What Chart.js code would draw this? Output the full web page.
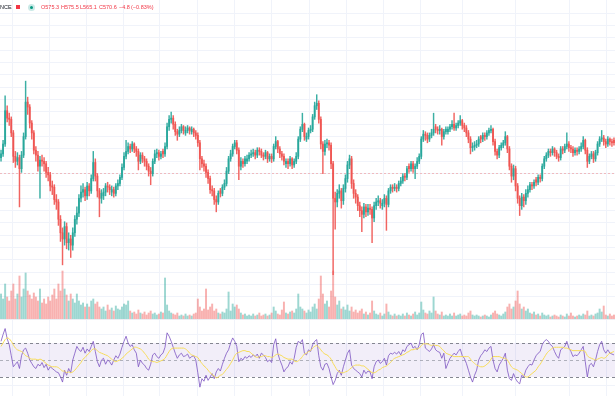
<!DOCTYPE html>
<html><head><meta charset="utf-8">
<script src="https://cdn.jsdelivr.net/npm/chart.js@4.4.1/dist/chart.umd.min.js"></script>
<style>
html,body{margin:0;padding:0;background:#fff;}
body{width:615px;height:396px;position:relative;overflow:hidden;font-family:"Liberation Sans",Arial,sans-serif;}
#pw{position:absolute;left:0;top:0;width:615px;height:319px}
#rw{position:absolute;left:0;top:320px;width:615px;height:76px}
#sep{position:absolute;left:0;top:319px;width:615px;height:1px;background:#eceef3}
.lg{position:absolute;top:3px;font-size:5.5px;line-height:8px;white-space:nowrap}
</style></head><body>
<div id="pw"><canvas id="price" width="615" height="319"></canvas></div>
<div id="sep"></div>
<div id="rw"><canvas id="rsi" width="615" height="76"></canvas></div>
<div id="legend"></div>
<script>
// ---------- DATA ----------
const symbolTail = "NCE";
const legendValues = ["O575.3", "H575.5", "L565.1", "C570.6", "\u22124.8", "(\u22120.83%)"];
const priceLine = 570.6;
const rsiLevels = [70, 50, 30];
const gridTicks = [5.7, 23.5, 41.8, 59.6, 77.5, 95.9, 114.1, 132.0, 150.7, 168.6, 186.5, 204.7, 225.2, 251.1, 277.2, 295.5];

const open = [
583,586,594,621,615,614,603,584,580,583,
574,585,600,628,624,611,603,589,585,576,
581,580,578,571,569,560,559,549,547,533,
522,517,527,514,517,512,522,533,538,550,
555,557,552,560,556,566,579,568,556,550,
552,555,560,559,555,557,554,560,562,567,
575,584,588,592,590,594,590,588,580,585,
582,580,576,572,570,580,586,587,584,588,
586,592,608,614,615,610,604,602,605,608,
603,605,607,604,606,603,601,595,582,578,
576,571,566,557,556,549,547,556,554,559,
562,572,582,586,592,595,589,576,580,578,
580,582,585,586,587,585,589,588,585,584,
587,582,584,582,592,596,590,586,584,578,
580,578,582,577,580,584,598,606,610,598,
600,605,606,616,625,627,614,594,588,594,
595,593,578,550,547,554,556,548,558,566,
577,582,562,554,551,544,540,537,543,539,
542,541,534,544,547,548,544,546,550,545,
556,559,558,559,558,562,564,568,567,576,
574,578,574,576,580,584,598,602,601,598,
601,603,608,606,605,606,600,604,604,606,
608,610,607,609,611,613,609,607,603,598,
591,592,593,594,600,598,601,600,603,605,
606,596,588,585,591,593,595,600,590,576,
568,574,560,550,544,551,548,554,557,561,
560,565,563,567,566,576,582,585,588,587,
590,587,584,583,590,589,592,594,591,590,
587,589,588,590,592,597,589,580,584,586,
582,587,594,598,599,596,594,598,596,597];

const high = [
589,597,633,625,619,616,605,588,587,585,
588,603,645,632,626,613,605,592,588,584,
585,583,580,575,571,564,561,553,549,536,
526,531,530,522,520,526,536,543,553,560,
562,559,563,562,569,588,582,570,558,557,
558,562,563,561,560,559,562,565,569,578,
587,597,595,594,596,595,592,590,587,587,
584,582,578,575,582,589,590,589,588,590,
595,611,617,620,617,612,606,608,610,609,
608,609,608,608,607,605,603,597,584,581,
578,573,568,560,558,552,556,558,561,565,
575,584,589,594,597,597,591,583,582,584,
585,587,589,590,589,591,591,590,587,589,
588,586,586,594,600,597,592,588,586,582,
582,584,583,582,587,600,608,619,611,603,
607,609,618,628,634,629,616,596,597,598,
597,595,580,555,557,561,558,561,569,580,
585,584,565,557,553,547,543,546,545,545,
545,543,547,550,552,550,549,553,552,558,
561,561,562,561,564,567,570,570,576,578,
580,580,578,583,586,600,605,604,603,603,
606,619,610,608,609,607,606,608,608,610,
613,619,611,613,617,614,611,609,605,600,
595,596,597,600,601,603,603,605,607,609,
607,598,590,593,595,597,604,601,592,578,
577,576,562,552,554,553,557,560,563,563,
565,567,569,569,578,584,587,590,590,592,
591,589,586,592,592,594,603,596,593,592,
591,591,592,595,600,598,591,586,588,588,
589,596,600,605,601,598,600,599,598,599];

const low = [
580,584,592,612,609,600,579,575,577,543,
571,583,598,618,607,598,586,580,572,550,
576,572,567,564,556,553,545,541,528,515,
496,512,509,508,502,508,519,529,535,547,
551,548,549,552,554,564,564,551,535,546,
549,552,555,553,552,551,552,557,560,565,
573,582,586,587,588,587,584,573,578,579,
576,573,568,561,568,578,583,581,582,583,
584,590,605,611,606,601,597,600,603,602,
601,603,602,602,600,598,592,573,575,572,
567,562,554,552,545,539,545,551,552,557,
560,570,580,584,590,586,565,573,575,576,
578,580,583,584,582,583,585,583,581,582,
579,580,579,580,590,587,583,581,577,575,
574,576,574,575,578,582,596,604,597,596,
598,603,604,614,622,611,590,570,585,591,
589,574,488,525,543,550,542,545,555,563,
574,558,550,546,540,535,523,534,535,536,
537,514,531,541,544,542,541,543,524,543,
554,555,556,555,556,560,562,564,565,571,
572,571,566,574,578,582,596,597,595,596,
599,601,603,602,602,593,598,602,602,604,
606,605,605,607,609,606,604,600,595,586,
588,589,591,592,595,596,597,598,601,603,
593,585,582,583,589,591,593,587,573,563,
565,556,546,536,541,543,545,551,555,557,
558,560,561,563,564,574,580,583,584,585,
584,582,580,581,586,587,590,588,587,584,
585,585,586,588,590,586,575,578,582,579,
580,585,592,596,593,591,592,593,592,593];

const close = [
586,594,621,615,614,603,584,580,583,574,
585,600,628,624,611,603,589,585,576,581,
580,578,571,569,560,559,549,547,533,522,
517,527,514,517,512,522,533,538,550,555,
557,552,560,556,566,579,568,556,550,554,
555,560,559,557,557,554,560,562,567,575,
584,588,592,590,594,590,588,580,585,582,
580,576,572,570,580,586,587,584,586,586,
592,608,614,615,610,604,602,605,608,605,
605,607,605,606,603,601,595,582,578,576,
571,566,557,556,549,547,554,554,559,562,
572,582,586,592,595,589,576,580,578,582,
582,585,586,587,585,589,588,585,584,587,
582,584,582,592,596,590,586,584,580,580,
578,582,577,580,584,598,606,610,600,600,
605,606,616,625,627,614,594,588,594,595,
593,578,550,547,554,556,548,558,566,577,
582,562,554,551,544,540,537,543,539,542,
541,534,544,547,548,546,546,550,545,556,
559,558,559,558,562,564,568,567,574,574,
578,574,576,580,584,598,602,601,598,601,
603,606,606,605,606,600,604,606,606,608,
610,607,609,611,613,609,607,603,598,591,
592,593,594,598,598,601,600,603,605,606,
596,588,585,591,593,595,600,590,576,568,
574,560,550,544,551,548,554,557,561,560,
563,563,567,566,576,582,585,588,587,590,
587,584,583,590,589,592,594,591,590,587,
589,588,590,592,597,589,580,584,586,582,
587,594,598,599,596,594,598,596,595,595];

const volume = [
75,60,105,66,54,84,105,60,75,129,
66,90,138,84,72,60,78,66,54,90,
48,60,45,66,54,72,90,60,105,84,
144,90,72,54,75,60,48,75,54,42,
48,36,45,36,54,60,45,51,36,30,
36,24,42,27,33,24,39,30,27,36,
45,42,54,24,18,21,15,27,18,15,
21,12,18,24,15,18,12,15,21,18,
123,42,24,18,15,12,18,9,12,9,
15,9,12,9,15,18,60,36,24,30,
90,27,36,45,24,30,18,15,21,18,
30,81,24,45,36,42,30,18,12,15,
9,12,9,15,9,12,18,9,12,15,
9,12,18,36,24,15,12,27,51,18,
15,21,24,18,30,75,36,30,24,18,
27,21,36,45,30,60,129,75,45,54,
36,84,144,66,42,54,30,36,27,42,
24,36,21,27,18,24,30,15,21,12,
18,54,24,15,12,18,9,15,45,21,
12,9,15,9,12,9,15,9,18,12,
9,15,21,12,18,51,27,18,15,24,
18,66,24,15,12,21,9,12,9,15,
9,18,9,12,15,9,12,9,18,24,
12,9,12,9,6,9,12,9,6,12,
18,24,15,12,9,15,21,36,45,30,
36,54,84,45,30,36,24,30,18,15,
21,12,15,9,18,12,9,12,6,9,
12,9,6,12,9,6,15,9,18,9,
6,9,12,9,15,12,24,9,12,9,
15,18,30,21,39,12,9,15,9,12];

const rsi = [
72,80,87,75,68,55,42,45,48,40,
55,62,64,58,50,46,42,40,45,43,
47,41,45,38,42,40,38,36,35,30,
24,38,32,40,35,50,58,66,62,60,
65,58,63,60,66,72,60,48,42,50,
52,45,50,48,44,50,55,52,57,65,
72,78,70,66,68,62,58,42,50,46,
44,40,38,45,56,58,54,52,56,58,
65,82,78,72,65,58,52,56,58,54,
55,57,52,54,55,50,35,18,28,25,
32,26,30,34,28,36,40,37,45,52,
58,62,70,76,72,66,48,52,50,54,
52,55,53,56,54,57,52,58,56,53,
48,50,47,68,75,58,50,44,36,40,
42,48,45,52,65,72,70,74,58,56,
62,60,68,72,74,55,42,38,45,46,
40,30,21,26,34,38,32,42,50,58,
62,44,40,38,36,34,30,38,34,37,
36,28,42,48,50,46,48,52,44,55,
58,57,59,57,60,56,62,60,66,68,
70,64,66,62,68,80,82,64,62,60,
63,68,62,60,59,52,58,40,46,52,
55,58,56,60,63,55,52,46,38,30,
24,32,38,50,55,58,62,60,64,66,
50,40,36,44,48,52,58,38,28,26,
34,28,24,22,32,30,38,42,45,44,
50,55,58,60,68,72,74,72,68,66,
60,55,52,62,64,66,72,64,60,54,
56,55,58,62,66,48,30,44,46,42,
50,60,68,72,62,58,62,58,57,56];

const rsiMA = [
66,70,74,76,75,72,68,64,62,61,
60,58,55,54,52,51,51,51,50,51,
50,48,46,44,43,42,42,42,41,39,
37,37,35,36,35,36,38,41,44,47,
51,53,56,58,61,63,63,61,59,58,
57,56,55,53,51,49,48,49,50,52,
54,57,59,61,63,65,65,64,63,61,
58,55,51,49,48,48,47,48,49,50,
52,56,60,63,64,64,64,64,64,64,
63,61,58,56,55,54,53,49,46,43,
41,38,35,33,31,29,30,32,33,36,
39,42,46,50,55,58,59,60,61,61,
60,60,58,56,54,53,54,54,55,55,
54,54,53,54,56,57,56,55,53,52,
51,51,51,49,48,49,51,54,57,58,
60,61,64,66,67,65,62,59,57,56,
54,51,46,42,38,36,35,35,36,37,
39,41,43,44,44,44,43,43,41,39,
37,35,35,36,38,39,41,42,43,45,
47,50,52,53,54,55,56,57,59,60,
62,62,63,63,64,67,69,69,69,68,
67,68,67,67,66,63,61,58,57,56,
55,54,54,54,54,54,54,54,54,51,
48,46,44,43,42,42,43,45,47,51,
54,54,54,54,53,52,52,50,46,42,
40,39,38,36,34,32,30,30,32,34,
36,38,42,45,49,53,57,60,62,64,
65,65,65,65,65,64,64,63,62,61,
61,61,61,61,61,60,55,53,52,51,
50,51,52,53,52,53,56,58,59,60];

// ---------- STYLE ----------
const UP = 'rgba(38,166,154,0.9)', DOWN = 'rgba(239,83,80,0.9)';
const UP_V = 'rgba(38,166,154,0.45)', DOWN_V = 'rgba(239,83,80,0.45)';
const GRID = '#f0f3fa';
const N = close.length;
const isUp = i => close[i] >= open[i];

// legend
(function(){
  const lg = document.getElementById('legend');
  const xs = [41, 61, 80, 99, 119, 131];
  let h = '<div class="lg" style="left:0;color:#131722">' + symbolTail + '</div>';
  h += '<div style="position:absolute;left:16px;top:5px;width:4px;height:4px;background:#f23645"></div>';
  h += '<div style="position:absolute;left:28px;top:4px;width:7px;height:7px;border-radius:50%;background:rgba(38,166,154,0.25)"></div>';
  h += '<div style="position:absolute;left:30px;top:6px;width:3px;height:3px;border-radius:50%;background:#089981"></div>';
  legendValues.forEach((t, k) => { h += '<div class="lg" style="left:' + xs[k] + 'px;color:#f23645">' + t + '</div>'; });
  lg.innerHTML = h;
})();

const xAxis = {
  type: 'linear', min: -0.5, max: N - 0.5, offset: false,
  afterBuildTicks: s => { s.ticks = gridTicks.map(v => ({ value: v })); },
  ticks: { display: false },
  grid: { color: GRID, drawTicks: false, offset: false, lineWidth: 1 },
  border: { display: false }
};

const priceLinePlugin = {
  id: 'priceLine',
  beforeDatasetsDraw(chart) {
    const y = chart.scales.y.getPixelForValue(priceLine);
    const c = chart.ctx, a = chart.chartArea;
    c.save();
    c.strokeStyle = 'rgba(239,83,80,0.35)';
    c.lineWidth = 1;
    c.setLineDash([2, 2]);
    c.beginPath();
    c.moveTo(a.left, Math.round(y) + 0.5);
    c.lineTo(a.right, Math.round(y) + 0.5);
    c.stroke();
    c.restore();
  }
};

new Chart(document.getElementById('price'), {
  type: 'bar',
  data: {
    datasets: [
      {
        label: 'Volume', yAxisID: 'v', order: 3, grouped: false,
        data: volume.map((v, i) => ({ x: i, y: v })),
        backgroundColor: ctx => isUp(ctx.dataIndex) ? UP_V : DOWN_V,
        barThickness: 1.3
      },
      {
        label: 'Wick', yAxisID: 'y', order: 2, grouped: false,
        data: low.map((l, i) => ({ x: i, y: [l, high[i]] })),
        backgroundColor: ctx => isUp(ctx.dataIndex) ? UP : DOWN,
        barThickness: 0.8
      },
      {
        label: 'Body', yAxisID: 'y', order: 1, grouped: false,
        data: open.map((o, i) => ({ x: i, y: [o, close[i]] })),
        backgroundColor: ctx => isUp(ctx.dataIndex) ? UP : DOWN,
        barThickness: 1.25
      }
    ]
  },
  options: {
    responsive: false, animation: false, maintainAspectRatio: false,
    layout: { padding: 0 },
    plugins: { legend: { display: false }, tooltip: { enabled: false } },
    scales: {
      x: xAxis,
      y: {
        type: 'linear', position: 'right', min: 452.1, max: 710.8,
        afterBuildTicks: s => { s.ticks = s.ticks.filter(t => Math.abs(t.value % 10) < 1e-6); },
        ticks: { display: false, stepSize: 10 },
        grid: { color: GRID, drawTicks: false },
        border: { display: false }
      },
      v: { type: 'linear', display: false, min: 0, max: 957 }
    }
  },
  plugins: [priceLinePlugin]
});

const rsiBandPlugin = {
  id: 'rsiBand',
  beforeDatasetsDraw(chart) {
    const s = chart.scales.y, c = chart.ctx, a = chart.chartArea;
    const yTop = s.getPixelForValue(rsiLevels[0]);
    const yBot = s.getPixelForValue(rsiLevels[2]);
    c.save();
    c.fillStyle = 'rgba(126,87,194,0.1)';
    c.fillRect(a.left, yTop, a.right - a.left, yBot - yTop);
    c.lineWidth = 1;
    c.setLineDash([3, 3]);
    rsiLevels.forEach((lv, k) => {
      const y = Math.round(s.getPixelForValue(lv)) + 0.5;
      c.strokeStyle = k === 1 ? 'rgba(120,123,134,0.55)' : 'rgba(120,123,134,0.9)';
      c.beginPath(); c.moveTo(a.left, y); c.lineTo(a.right, y); c.stroke();
    });
    c.restore();
  }
};

new Chart(document.getElementById('rsi'), {
  type: 'line',
  data: {
    datasets: [
      {
        label: 'RSI', data: rsi.map((v, i) => ({ x: i, y: v })),
        borderColor: 'rgba(126,87,194,0.9)', borderWidth: 0.9, pointRadius: 0, tension: 0, order: 2
      },
      {
        label: 'RSI MA', data: rsiMA.map((v, i) => ({ x: i, y: v })),
        borderColor: '#f7dc57', borderWidth: 1, pointRadius: 0, tension: 0.3, order: 1
      }
    ]
  },
  options: {
    responsive: false, animation: false, maintainAspectRatio: false,
    layout: { padding: 0 },
    plugins: { legend: { display: false }, tooltip: { enabled: false } },
    scales: {
      x: xAxis,
      y: {
        type: 'linear', position: 'right', min: 7.6, max: 97.1,
        afterBuildTicks: s => { s.ticks = [{ value: 20 }, { value: 80 }]; },
        ticks: { display: false },
        grid: { color: GRID, drawTicks: false },
        border: { display: false }
      }
    }
  },
  plugins: [rsiBandPlugin]
});
</script>
</body></html>
